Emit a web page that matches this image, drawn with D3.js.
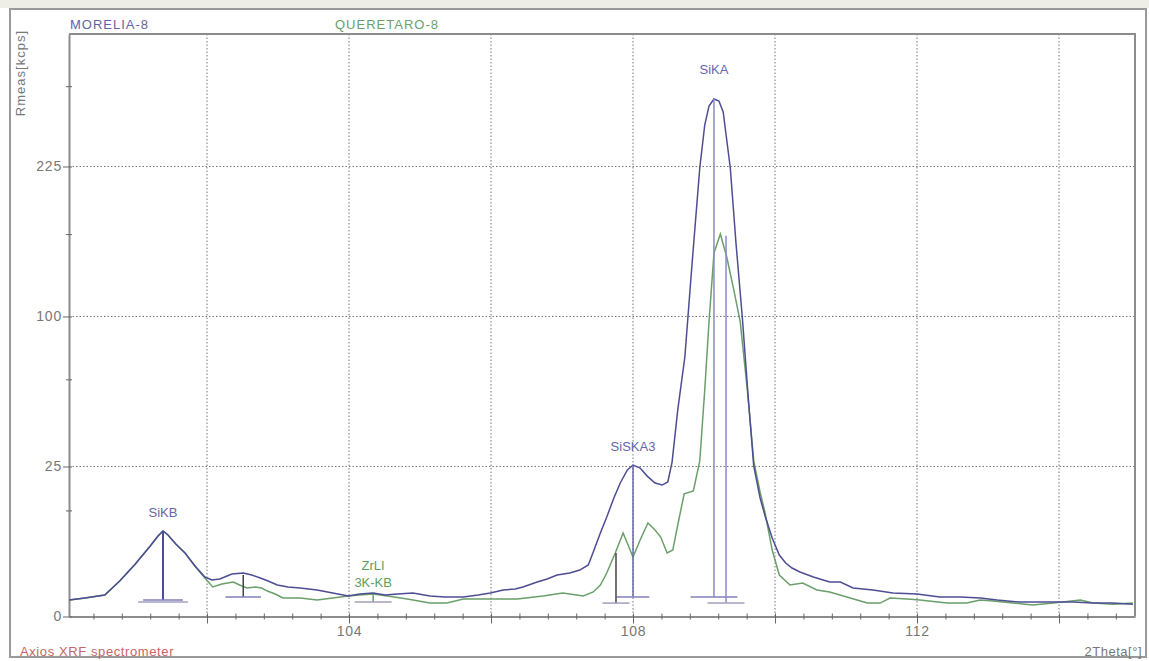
<!DOCTYPE html>
<html>
<head>
<meta charset="utf-8">
<script src="https://cdn.jsdelivr.net/npm/d3@7"></script>
<style>
  body { margin: 0; background: #fff; }
  svg { font-family: "Liberation Sans", Arial, sans-serif; }
</style>
</head>
<body>
<svg id="chart" width="1149" height="661"></svg>
<script>
// spectrum scan, 2Theta (deg) vs Rmeas (kcps)
const thetaMorelia = [100.06, 100.28, 100.56, 100.77, 100.99, 101.20, 101.31, 101.38, 101.45, 101.56, 101.69, 101.83, 101.97,
  102.07, 102.18, 102.35, 102.51, 102.63, 102.75, 102.86, 102.99, 103.14, 103.31, 103.55, 103.77, 103.99, 104.15, 104.34,
  104.51, 104.68, 104.90, 105.14, 105.35, 105.61, 105.82, 105.99, 106.17, 106.34, 106.45, 106.65, 106.79, 106.93, 107.11,
  107.25, 107.37, 107.44, 107.54, 107.63, 107.73, 107.82, 107.92, 108.00, 108.10, 108.20, 108.31, 108.41, 108.49, 108.55,
  108.63, 108.73, 108.83, 108.94, 109.01, 109.07, 109.14, 109.21, 109.27, 109.32, 109.37, 109.45, 109.54, 109.62, 109.70,
  109.79, 109.86, 109.96, 110.06, 110.15, 110.24, 110.35, 110.54, 110.77, 110.92, 111.10, 111.38, 111.66, 112.00, 112.32,
  112.61, 112.89, 113.13, 113.45, 113.83, 114.20, 114.48, 114.76, 115.04];
const rateMorelia = [0.30, 0.38, 0.51, 1.40, 3.06, 5.52, 7.20, 8.12, 7.38, 5.84, 4.48, 2.83, 1.73,
  1.48, 1.56, 2.01, 2.10, 1.91, 1.65, 1.40, 1.10, 0.97, 0.90, 0.78, 0.61, 0.47, 0.56, 0.61,
  0.51, 0.56, 0.61, 0.47, 0.42, 0.42, 0.51, 0.61, 0.78, 0.84, 0.97, 1.32, 1.56, 1.91, 2.10,
  2.40, 2.95, 4.62, 7.75, 11.0, 15.6, 19.8, 23.85, 25.5, 24.5, 21.9, 19.8, 19.2, 20.1, 26.5,
  47.4, 74.8, 137.3, 223.5, 268.4, 289.6, 297.6, 295.3, 282.8, 252.3, 223.5, 155.0, 99.0, 54.5, 25.2,
  15.6, 11.2, 6.85, 4.20, 3.18, 2.61, 2.20, 1.73, 1.32, 1.32, 0.90, 0.78, 0.61, 0.56, 0.42,
  0.42, 0.38, 0.30, 0.23, 0.23, 0.23, 0.20, 0.20, 0.17];

const thetaQueretaro = [100.06, 100.28, 100.56, 100.77, 100.99, 101.20, 101.31, 101.38, 101.45, 101.56, 101.69, 101.83, 101.97,
  102.08, 102.21, 102.37, 102.46, 102.56, 102.68, 102.77, 102.85, 102.96, 103.07, 103.31, 103.55, 103.77, 103.99, 104.15,
  104.34, 104.54, 104.82, 105.14, 105.38, 105.61, 105.99, 106.37, 106.73, 107.01, 107.30, 107.44, 107.54, 107.63, 107.75,
  107.86, 108.00, 108.10, 108.21, 108.31, 108.39, 108.48, 108.56, 108.63, 108.72, 108.85, 108.94, 109.01, 109.07, 109.14,
  109.23, 109.32, 109.42, 109.51, 109.61, 109.70, 109.79, 109.86, 109.96, 110.06, 110.21, 110.39, 110.59, 110.77, 111.01,
  111.30, 111.48, 111.62, 111.86, 112.04, 112.42, 112.70, 112.89, 113.07, 113.35, 113.63, 113.92, 114.30, 114.48, 114.76, 115.04];
const rateQueretaro = [0.30, 0.38, 0.51, 1.40, 3.06, 5.52, 7.20, 8.12, 7.38, 5.84, 4.48, 2.83, 1.65,
  0.97, 1.17, 1.32, 1.10, 0.90, 0.97, 0.90, 0.72, 0.56, 0.38, 0.38, 0.30, 0.38, 0.47, 0.51,
  0.56, 0.47, 0.34, 0.20, 0.20, 0.34, 0.34, 0.34, 0.47, 0.61, 0.47, 0.67, 1.10, 2.10, 4.48,
  7.75, 3.93, 6.50, 9.71, 8.31, 7.02, 4.48, 4.91, 9.3, 16.7, 17.5, 26.9, 57.0, 96.4, 146.8,
  162.6, 143.6, 118.4, 96.4, 57.0, 26.9, 17.2, 11.9, 4.91, 1.91, 1.10, 1.25, 0.78, 0.67, 0.42,
  0.20, 0.20, 0.38, 0.34, 0.30, 0.20, 0.20, 0.30, 0.27, 0.20, 0.15, 0.20, 0.30, 0.20, 0.17, 0.20];

// line markers: label, position, top and foot of the stick
const lineNames = ["SiKB", "", "ZrLI\n3K-KB", "SiSKA3", "", "SiKA", ""];
const lineTheta = [101.38, 102.51, 104.34, 108.00, 107.76, 109.14, 109.31];
const lineTop = [8.12, 1.91, 0.56, 25.5, 4.48, 297.6, 161];
const lineFoot = [0.30, 0.42, 0.23, 0.42, 0.20, 0.42, 0.20];
const lineSample = ["M", "M", "Q", "M", "Q", "M", "Q"];

const yTicks = [0, 25, 100, 225];
const yMinor = [12.5, 62.5, 162.5, 312.5];
const xLabels = [104, 108, 112];
const gridX = [102, 104, 106, 108, 110, 112, 114];

const svg = d3.select('#chart');
const blue = '#4d4d93';
const green = '#6a9f6a';
const tickFont = '"Liberation Sans", Arial, sans-serif';

// frame of the window
svg.append('rect').attr('x', 0).attr('y', 0).attr('width', 1149).attr('height', 8).attr('fill', '#efeee6');
svg.append('rect').attr('x', 10).attr('y', 9).attr('width', 1136).attr('height', 648)
  .attr('fill', 'none').attr('stroke', '#9a9a9a').attr('stroke-width', 2);

const x = d3.scaleLinear().domain([100.056, 115.07]).range([69, 1135]);
const y = d3.scaleSqrt().domain([0, 377]).range([616.5, 34]);

// grid
svg.append('g').selectAll('line').data(gridX).join('line')
  .attr('x1', d => x(d)).attr('x2', d => x(d)).attr('y1', 34).attr('y2', 616.5)
  .attr('stroke', '#777').attr('stroke-dasharray', '1.5,2');
svg.append('g').selectAll('line').data(yTicks.slice(1)).join('line')
  .attr('x1', 69).attr('x2', 1135).attr('y1', d => y(d)).attr('y2', d => y(d))
  .attr('stroke', '#777').attr('stroke-dasharray', '1.5,2');

// plot border
svg.append('path').attr('d', 'M69,34H1135V616.5').attr('fill', 'none').attr('stroke', '#8c8c8c').attr('stroke-width', 2);

// axes
const xTickVals = d3.range(251, 288).map(i => +(i * 0.4).toFixed(1));
const xAxisG = svg.append('g').attr('transform', 'translate(0,616.5)')
  .call(d3.axisBottom(x).tickValues(xTickVals).tickSizeOuter(0)
    .tickFormat(d => xLabels.includes(d) ? String(d) : ''));
xAxisG.select('.domain').attr('stroke', '#8c8c8c').attr('stroke-width', 2);
xAxisG.selectAll('.tick line').attr('stroke', '#666')
  .attr('y1', -3).attr('y2', d => (Math.abs(d % 2) < 0.01 || Math.abs(d % 2 - 2) < 0.01) ? 7 : 3);
xAxisG.selectAll('.tick text').attr('y', 10).attr('font-size', 14).attr('fill', '#777')
  .attr('letter-spacing', 0.8).attr('font-family', tickFont);

const yAxisG = svg.append('g').attr('transform', 'translate(69,0)')
  .call(d3.axisLeft(y).tickValues(yTicks.concat(yMinor)).tickSizeOuter(0).tickFormat(''));
yAxisG.select('.domain').attr('stroke', '#8c8c8c').attr('stroke-width', 2);
yAxisG.selectAll('.tick line').attr('stroke', '#666').attr('x1', 3).attr('x2', d => yTicks.includes(d) ? -6 : -3);

// y labels drawn on their own so the zero shows too
svg.append('g').selectAll('text').data(yTicks).join('text')
  .attr('x', 62).attr('y', d => y(d)).attr('dy', '0.35em').attr('text-anchor', 'end')
  .attr('font-size', 14).attr('letter-spacing', 0.8).attr('fill', '#777').attr('font-family', tickFont)
  .text(d => d);

// spectra
const line = d3.line().x(d => x(d[0])).y(d => y(d[1]));
svg.append('path').datum(d3.zip(thetaQueretaro, rateQueretaro)).attr('d', line)
  .attr('fill', 'none').attr('stroke', green).attr('stroke-width', 1.5);
svg.append('path').datum(d3.zip(thetaMorelia, rateMorelia)).attr('d', line)
  .attr('fill', 'none').attr('stroke', blue).attr('stroke-width', 1.5);

// line markers
const stickColor = ['#4d4d93', '#444', '#6a9f6a', '#6a6aa8', '#444', '#8a8ac4', '#8a8ac4'];
const barHalf = [0.28, 0.25, 0.26, 0.23, 0.19, 0.33, 0.26];
const labelGap = [14, 0, 0, 14, 0, 25, 0];
lineTheta.forEach((t, i) => {
  const c = stickColor[i];
  svg.append('line').attr('x1', x(t)).attr('x2', x(t)).attr('y1', y(lineTop[i])).attr('y2', y(lineFoot[i]))
    .attr('stroke', c).attr('stroke-width', i === 0 ? 2 : 1.5);
  svg.append('line').attr('x1', x(t - barHalf[i])).attr('x2', x(t + barHalf[i]))
    .attr('y1', y(lineFoot[i])).attr('y2', y(lineFoot[i]))
    .attr('stroke', lineSample[i] === 'M' ? '#8080b8' : '#a0a0b8').attr('stroke-width', 1.5);
  if (i === 0) {
    svg.append('line').attr('x1', x(t - 0.35)).attr('x2', x(t + 0.35)).attr('y1', y(0.23)).attr('y2', y(0.23))
      .attr('stroke', '#a0a0c0').attr('stroke-width', 1.5);
  }
  if (lineNames[i]) {
    const parts = lineNames[i].split('\n');
    const txt = svg.append('text').attr('text-anchor', 'middle').attr('font-size', 13)
      .attr('fill', lineSample[i] === 'M' ? '#6666a8' : '#5e9e5e');
    if (parts.length > 1) {
      // stacked label sits just over the curve
      txt.append('tspan').attr('x', x(t)).attr('y', 570).text(parts[0]);
      txt.append('tspan').attr('x', x(t)).attr('y', 587).text(parts[1]);
    } else {
      txt.append('tspan').attr('x', x(t)).attr('y', y(lineTop[i]) - labelGap[i]).text(parts[0]);
    }
  }
});

// legend / captions
svg.append('text').attr('x', 70).attr('y', 29).attr('font-size', 13).attr('letter-spacing', 1)
  .attr('fill', '#6262a6').text('MORELIA-8');
svg.append('text').attr('x', 335).attr('y', 29).attr('font-size', 13).attr('letter-spacing', 1)
  .attr('fill', '#6aa06a').text('QUERETARO-8');
svg.append('text').attr('transform', 'translate(25,30) rotate(-90)').attr('text-anchor', 'end')
  .attr('font-size', 13).attr('letter-spacing', 1).attr('fill', '#777').text('Rmeas[kcps]');
svg.append('text').attr('x', 20).attr('y', 656).attr('font-size', 13).attr('letter-spacing', 0.6)
  .attr('fill', '#c86464').text('Axios XRF spectrometer');
svg.append('text').attr('x', 1142).attr('y', 656).attr('text-anchor', 'end').attr('font-size', 13)
  .attr('letter-spacing', 0.5).attr('fill', '#777').text('2Theta[°]');
</script>
</body>
</html>
